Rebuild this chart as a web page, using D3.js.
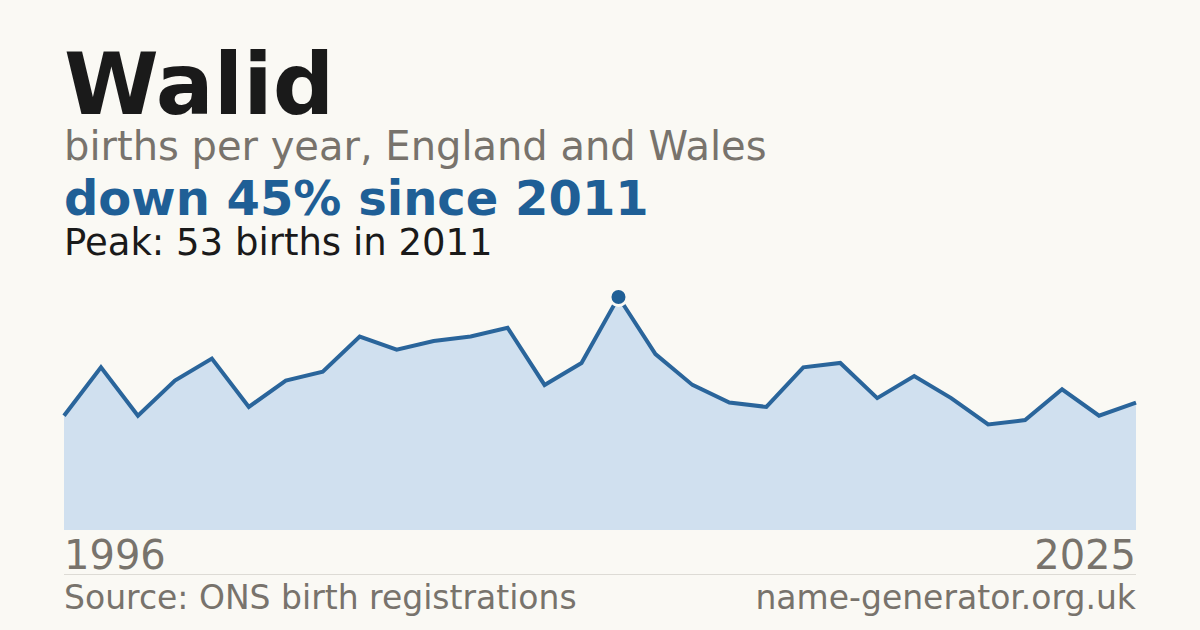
<!DOCTYPE html>
<html>
<head>
<meta charset="utf-8">
<script src="https://cdn.jsdelivr.net/npm/d3@7"></script>
<style>
  html, body { margin: 0; padding: 0; background: #faf9f4; }
  svg { display: block; font-family: "DejaVu Sans", sans-serif; }
</style>
</head>
<body>
<div id="chart"></div>
<script>
// Chart data
const years = d3.range(1996, 2026);
const births = [26, 37, 26, 34, 39, 28, 34, 36, 44, 41,
                43, 44, 46, 33, 38, 53, 40, 33, 29, 28,
                37, 38, 30, 35, 30, 24, 25, 32, 26, 29];
const labels = {
  name: 'Walid',
  subtitle: 'births per year, England and Wales',
  source: 'Source: ONS birth registrations',
  site: 'name-generator.org.uk'
};

const width = 1200;
const height = 630;
const left = 64;
const right = 1136;

const svg = d3.select('#chart')
  .append('svg')
  .attr('width', width)
  .attr('height', height);

svg.append('rect')
  .attr('width', width)
  .attr('height', height)
  .attr('fill', '#faf9f4');

// Peak and change since the peak
const peakIdx = d3.maxIndex(births);
const peakYear = years[peakIdx];
const peakVal = births[peakIdx];
const lastVal = births[births.length - 1];
const change = Math.round((1 - lastVal / peakVal) * 100);

/*
 * Headings
 */
svg.append('text')
  .attr('x', left).attr('y', 114)
  .attr('font-size', 86).attr('font-weight', 'bold')
  .attr('fill', '#1a1a1a')
  .text(labels.name);

svg.append('text')
  .attr('x', left).attr('y', 160)
  .attr('font-size', 40)
  .attr('fill', '#78736c')
  .text(labels.subtitle);

svg.append('text')
  .attr('x', left).attr('y', 215)
  .attr('font-size', 48).attr('font-weight', 'bold')
  .attr('fill', '#1f5f96')
  .text('down ' + change + '% since ' + peakYear);

svg.append('text')
  .attr('x', left).attr('y', 255)
  .attr('font-size', 37)
  .attr('fill', '#1a1a1a')
  .text('Peak: ' + peakVal + ' births in ' + peakYear);

/*
 * Area chart
 */
const x = d3.scaleLinear()
  .domain(d3.extent(years))
  .range([left, right]);

const y = d3.scaleLinear()
  .domain([0, peakVal])
  .range([530, 297]);

const area = d3.area()
  .x((d, i) => x(years[i]))
  .y0(y(0))
  .y1((d) => y(d));

const line = d3.line()
  .x((d, i) => x(years[i]))
  .y((d) => y(d));

svg.append('path')
  .datum(births)
  .attr('d', area)
  .attr('fill', '#d0e0ef');

svg.append('path')
  .datum(births)
  .attr('d', line)
  .attr('fill', 'none')
  .attr('stroke', '#2a659b')
  .attr('stroke-width', 4)
  .attr('stroke-linejoin', 'miter');

// Peak marker with a halo in the background colour
svg.append('circle')
  .attr('cx', x(peakYear))
  .attr('cy', y(peakVal))
  .attr('r', 8.5)
  .attr('fill', '#1f5f96')
  .attr('stroke', '#faf9f4')
  .attr('stroke-width', 3);

/*
 * Year labels and footer
 */
svg.append('text')
  .attr('x', left).attr('y', 569)
  .attr('font-size', 40)
  .attr('fill', '#78736c')
  .text(years[0]);

svg.append('text')
  .attr('x', right).attr('y', 569)
  .attr('text-anchor', 'end')
  .attr('font-size', 40)
  .attr('fill', '#78736c')
  .text(years[years.length - 1]);

svg.append('line')
  .attr('x1', left).attr('x2', right)
  .attr('y1', 574.5).attr('y2', 574.5)
  .attr('stroke', '#dddbd5')
  .attr('stroke-width', 1);

svg.append('text')
  .attr('x', left).attr('y', 609)
  .attr('font-size', 33)
  .attr('fill', '#78736c')
  .text(labels.source);

svg.append('text')
  .attr('x', right).attr('y', 609)
  .attr('text-anchor', 'end')
  .attr('font-size', 33)
  .attr('fill', '#78736c')
  .text(labels.site);
</script>
</body>
</html>
